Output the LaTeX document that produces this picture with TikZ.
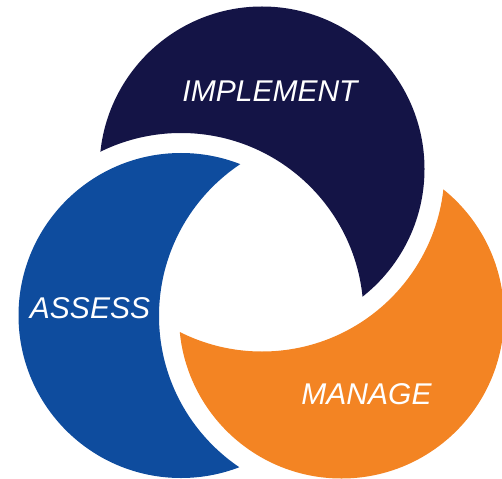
\documentclass[tikz,border=0pt]{standalone}
\usepackage{fontspec}
\setmainfont{Liberation Sans}
\definecolor{cnavy}{HTML}{141446}
\definecolor{cblue}{HTML}{0E4C9E}
\definecolor{corange}{HTML}{F38423}
\begin{document}
\begin{tikzpicture}[x=1pt,y=-1pt,
  lbl/.style={text=white,inner sep=0pt,font=\fontsize{30}{36}\selectfont\itshape}]
\useasboundingbox (0,0) rectangle (502,478);
\def\R{162.5pt}
\def\C{182.5pt}
\coordinate (N) at (262,169);
\coordinate (B) at (181,315.5);
\coordinate (O) at (341.5,316);
% IMPLEMENT crescent
\begin{scope}[even odd rule]
  \clip (-50,-50) rectangle (600,600) (B) circle (\C);
  \fill[cnavy] (N) circle (\R);
\end{scope}
% ASSESS crescent
\begin{scope}[even odd rule]
  \clip (-50,-50) rectangle (600,600) (O) circle (\C);
  \fill[cblue] (B) circle (\R);
\end{scope}
% MANAGE crescent
\begin{scope}[even odd rule]
  \clip (-50,-50) rectangle (600,600) (N) circle (\C);
  \fill[corange] (O) circle (\R);
\end{scope}
\node[lbl] (impl) at (270,91) {IMPLEMENT};
\node[lbl] (assess) at (90,308) {ASSESS};
\node[lbl] (manage) at (366.5,394) {MANAGE};
\end{tikzpicture}
\end{document}
